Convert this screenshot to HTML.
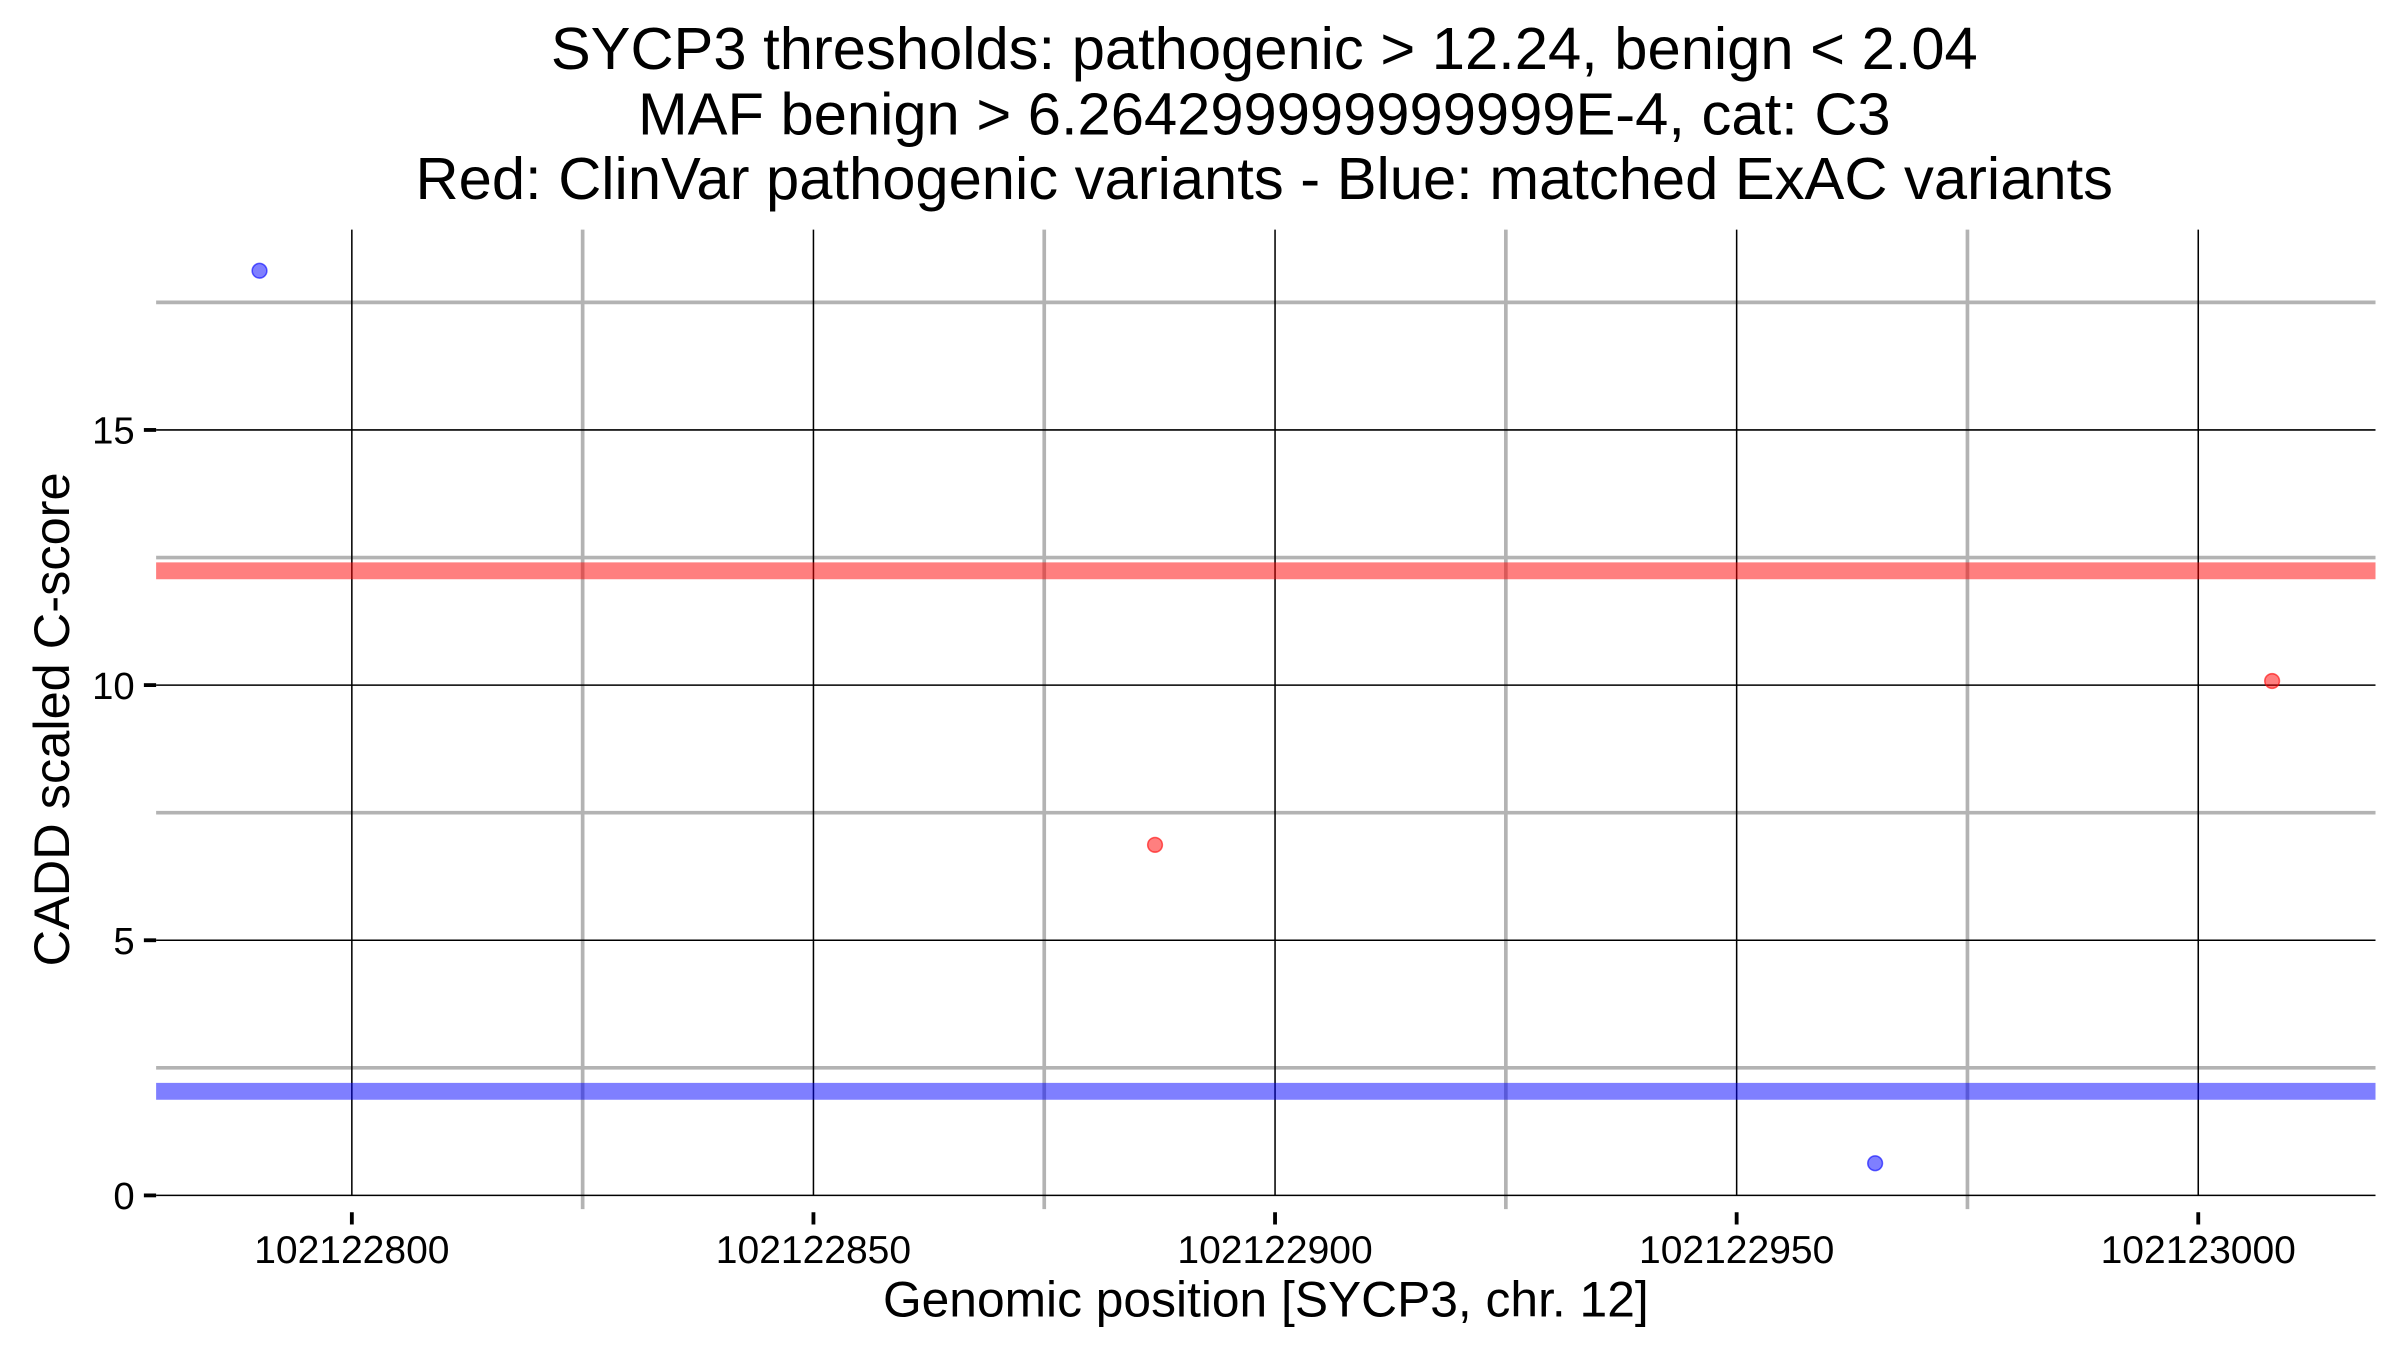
<!DOCTYPE html>
<html><head><meta charset="utf-8"><style>html,body{margin:0;padding:0;background:#fff}svg{display:block}</style></head>
<body>
<svg id="chart" width="2400" height="1350" viewBox="0 0 1568 882" xmlns="http://www.w3.org/2000/svg" font-family="Liberation Sans, Arial, sans-serif">
<g text-anchor="middle" font-size="39" fill="#000">
<text x="826" y="45">SYCP3 thresholds: pathogenic &gt; 12.24, benign &lt; 2.04</text>
<text x="826" y="88">MAF benign &gt; 6.264299999999999E-4, cat: C3</text>
<text x="826" y="130">Red: ClinVar pathogenic variants - Blue: matched ExAC variants</text>
</g>
<g id="grid"></g>
<g id="bands"></g>
<g id="points"></g>
<g id="axes"></g>
<text x="827" y="860" text-anchor="middle" font-size="32.5">Genomic position [SYCP3, chr. 12]</text>
<text transform="translate(45,470) rotate(-90)" text-anchor="middle" font-size="33">CADD scaled C-score</text>
</svg>
<script>
const xTicks = [102122800, 102122850, 102122900, 102122950, 102123000];
const xMinor = [102122825, 102122875, 102122925, 102122975];
const yTicks = [0, 5, 10, 15];
const yMinor = [2.5, 7.5, 12.5, 17.5];
const thresholds = [12.24, 2.04];
const pointX = [102122790, 102122887, 102122965, 102123008];
const pointY = [18.12, 6.87, 0.63, 10.08];
const pointGroup = ['benign', 'pathogenic', 'benign', 'pathogenic'];

const L = 102, R = 1552, T = 150, B = 790;
const xMin = 102122778.8, xMax = 102123019.2;
function sx(v){ return L + (v - xMin) / (xMax - xMin) * (R - L); }
function sy(v){ return 781 - v * (166.7 / 5); }
const NS = 'http://www.w3.org/2000/svg';
function mk(tag, attrs, parent){ const e = document.createElementNS(NS, tag); for (const k in attrs) e.setAttribute(k, attrs[k]); parent.appendChild(e); return e; }
const grid = document.getElementById('grid'), bands = document.getElementById('bands'), pts = document.getElementById('points'), axes = document.getElementById('axes');

xMinor.forEach(v => { const l = mk('line', {x1:sx(v), x2:sx(v), y1:T, y2:B, stroke:'#b3b3b3', 'stroke-width':2.4}, grid);

 });
yMinor.forEach(v => { const l = mk('line', {x1:L, x2:R, y1:sy(v), y2:sy(v), stroke:'#b3b3b3', 'stroke-width':2.4}, grid);

 });
xTicks.forEach(v => { const l = mk('line', {x1:sx(v), x2:sx(v), y1:T, y2:781, stroke:'#000', 'stroke-width':1}, grid);

 });
yTicks.forEach(v => { const l = mk('line', {x1:L, x2:R, y1:sy(v), y2:sy(v), stroke:'#000', 'stroke-width':1}, grid);

 });

const bandColors = ['#ff0000', '#0000ff'];
thresholds.forEach((v, i) => { const l = mk('line', {x1:L, x2:R, y1:sy(v), y2:sy(v), stroke:bandColors[i], 'stroke-opacity':0.5, 'stroke-width':11}, bands);

 });

pointX.forEach((v, i) => { const c = mk('circle', {cx:sx(v), cy:sy(pointY[i]), r:4.8, fill: pointGroup[i] === 'pathogenic' ? '#ff0000' : '#0000ff', 'fill-opacity':0.5, stroke: pointGroup[i] === 'pathogenic' ? '#ff0000' : '#0000ff', 'stroke-opacity':0.6, 'stroke-width':1}, pts);

 });

yTicks.forEach(v => { const t = mk('line', {x1:94, x2:L, y1:sy(v), y2:sy(v), stroke:'#000', 'stroke-width':2.5}, axes);


const tx = mk('text', {x:88, y:sy(v)+9, 'text-anchor':'end', 'font-size':25}, axes); tx.textContent = v;

 });
xTicks.forEach(v => { const t = mk('line', {x1:sx(v), x2:sx(v), y1:792, y2:800, stroke:'#000', 'stroke-width':2.5}, axes);


const tx = mk('text', {x:sx(v), y:825, 'text-anchor':'middle', 'font-size':25.5}, axes); tx.textContent = v;

 });
</script>
</body></html>
